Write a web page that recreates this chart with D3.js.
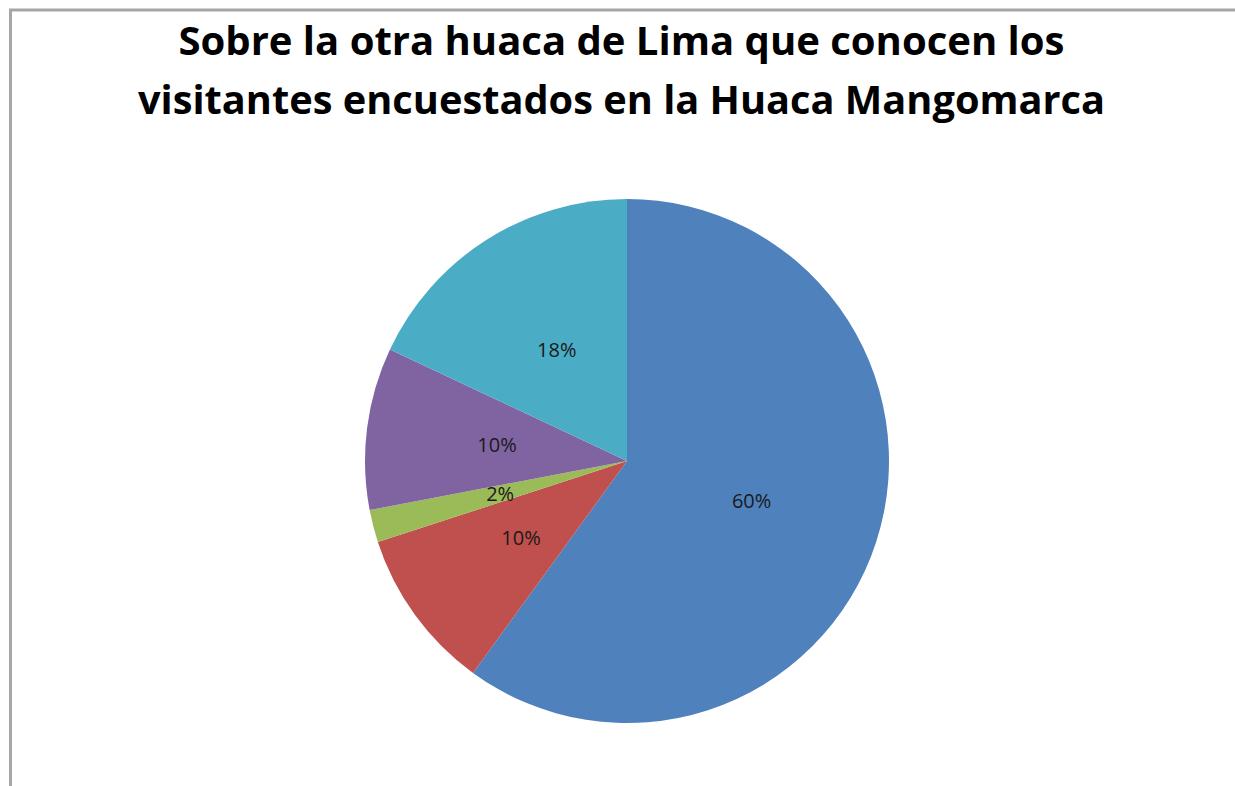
<!DOCTYPE html>
<html>
<head>
<meta charset="utf-8">
<script src="https://cdn.jsdelivr.net/npm/d3@7"></script>
<style>
    body { margin: 0; background: #fff; }
    svg { display: block; }
</style>
</head>
<body>
<div id="chart"></div>
<script>
"use strict";

const categories = ["A", "B", "C", "D", "E"];
const values = [60, 10, 2, 10, 18];
const labels = ["60%", "10%", "2%", "10%", "18%"];
const colors = ["#4F81BD", "#C0504D", "#9BBB59", "#8064A2", "#4BACC6"];
const titleLines = [
    "Sobre la otra huaca de Lima que conocen los",
    "visitantes encuestados en la Huaca Mangomarca"
];

(function () {
    const width = 1235;
    const height = 786;
    const cx = 627;
    const cy = 461;
    const radius = 262;

    const svg = d3.select("#chart")
        .append("svg")
        .attr("width", width)
        .attr("height", height);

    // chart frame (runs off the right and bottom edges)
    svg.append("rect")
        .attr("x", 10.5)
        .attr("y", 10)
        .attr("width", width + 20)
        .attr("height", height + 20)
        .attr("fill", "none")
        .attr("stroke", "#a6a6a6")
        .attr("stroke-width", 3);

    const title = svg.append("g")
        .attr("font-family", "'Open Sans', Lato, sans-serif")
        .attr("font-weight", "bold")
        .attr("font-size", 40)
        .attr("fill", "#000");

    const titleY = [55, 114];
    const titleW = [886, 967];
    titleLines.forEach((t, i) => {
        title.append("text")
            .attr("x", width / 2 + 4)
            .attr("y", titleY[i])
            .attr("text-anchor", "middle")
            .attr("textLength", titleW[i])
            .attr("lengthAdjust", "spacingAndGlyphs")
            .text(t);
    });

    const pie = d3.pie().sort(null).value(d => d);
    const arc = d3.arc().innerRadius(0).outerRadius(radius);

    const g = svg.append("g").attr("transform", `translate(${cx},${cy})`);
    const arcs = pie(values);

    g.selectAll("path")
        .data(arcs)
        .enter()
        .append("path")
        .attr("d", arc)
        .attr("fill", (d, i) => colors[i]);

    g.selectAll("text")
        .data(arcs)
        .enter()
        .append("text")
        .attr("transform", d => `translate(${arc.centroid(d)})`)
        .attr("text-anchor", "middle")
        .attr("dy", "0.35em")
        .attr("font-family", "'Open Sans', sans-serif")
        .attr("font-size", 20)
        .attr("fill", "#1a1a1a")
        .text((d, i) => labels[i]);
})();
</script>
</body>
</html>
